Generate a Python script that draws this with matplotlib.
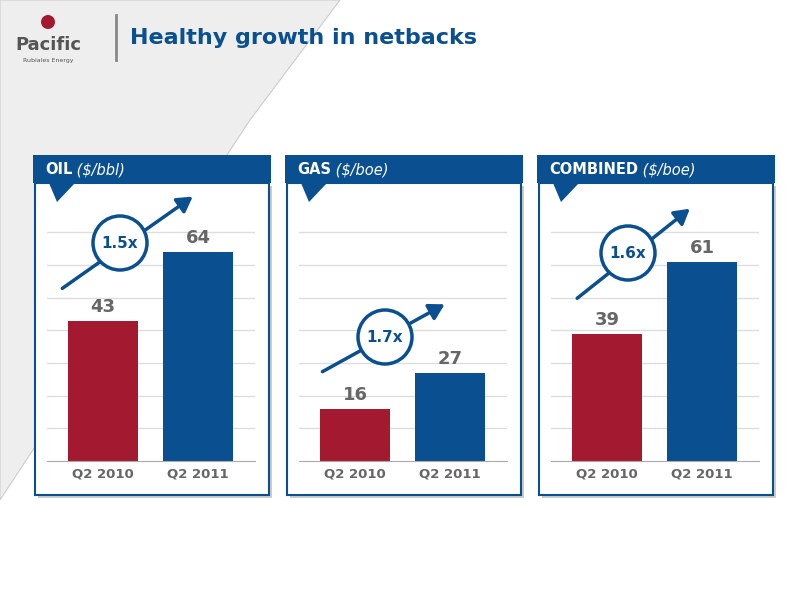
import matplotlib.pyplot as plt
from matplotlib.patches import Rectangle, Polygon, Circle, FancyArrowPatch

titles = ["OIL", "GAS", "COMBINED"]
units = ["($/bbl)", "($/boe)", "($/boe)"]
periods = ["Q2 2010", "Q2 2011"]
values = [[43, 64], [16, 27], [39, 61]]
ratios = ["1.5x", "1.7x", "1.6x"]

BLUE = "#0a4f8f"
RED = "#a3192f"
W, H = 800, 600

fig = plt.figure(figsize=(8, 6), dpi=100)
bg = fig.add_axes([0, 0, 1, 1])
bg.set_xlim(0, W)
bg.set_ylim(H, 0)
bg.axis("off")

# background swoosh
bg.add_patch(Polygon([(0, 0), (340, 0), (250, 120), (0, 500)], closed=True,
                     fc="#eeeeee", ec="#cccccc", lw=0.8))

# logo + title
bg.text(48, 50, "Pacific", fontsize=13, fontweight="bold", color="#555555", ha="center")
bg.text(48, 62, "Rubiales Energy", fontsize=4.5, color="#555555", ha="center")
bg.add_patch(Circle((48, 22), 7, fc=RED, ec="none"))
bg.plot([116, 116], [15, 60], color="#888888", lw=2)
bg.text(130, 38, "Healthy growth in netbacks", fontsize=16, fontweight="bold",
        color=BLUE, va="center")

panel_x = [35, 287, 539]
pw = 234
circles = [(120, 243), (385, 337), (628, 253)]
arrows = [((60, 290), (195, 195)), ((320, 373), (447, 303)), ((575, 300), (692, 207))]

for i in range(3):
    x0 = panel_x[i]
    # shadow + body
    bg.add_patch(Rectangle((x0 + 3, 186), pw, 312, fc="#cccccc", ec="none"))
    bg.add_patch(Rectangle((x0, 183), pw, 312, fc="white", ec=BLUE, lw=1.5))
    bg.add_patch(Rectangle((x0 - 2, 155), pw + 4, 28, fc=BLUE, ec="none"))
    bg.add_patch(Polygon([(x0 + 14, 183), (x0 + 40, 183), (x0 + 22, 202)], fc=BLUE, ec="none"))
    t = bg.text(x0 + 10, 170, titles[i], fontsize=10.5, fontweight="bold",
                color="white", va="center")
    bg.annotate(" " + units[i], xycoords=t, xy=(1, 0.5), va="center",
                fontsize=10.5, style="italic", color="white")

    left = (x0 + 12) / W
    ax = fig.add_axes([left, 139 / H, 208 / W, 245 / H])
    ax.set_xlim(-0.59, 1.6)
    ax.set_ylim(0, 75)
    ax.bar([0, 1], values[i], width=0.74, color=[RED, BLUE], zorder=2)
    for j, v in enumerate(values[i]):
        ax.text(j, v + 1.5, str(v), ha="center", va="bottom", fontsize=13,
                fontweight="bold", color="#666666")
    for g in range(10, 80, 10):
        ax.axhline(g, color="#dddddd", lw=1, zorder=1)
    ax.set_xticks([0, 1])
    ax.set_xticklabels(periods, fontsize=9.5, fontweight="bold", color="#666666")
    ax.tick_params(length=0, pad=5)
    ax.set_yticks([])
    for s in ["top", "left", "right"]:
        ax.spines[s].set_visible(False)
    ax.spines["bottom"].set_color("#aaaaaa")
    ax.patch.set_alpha(0)

# ratio bubbles on top
over = fig.add_axes([0, 0, 1, 1])
over.set_xlim(0, W)
over.set_ylim(H, 0)
over.axis("off")
for i in range(3):
    (a, b), (c, d) = arrows[i]
    over.add_patch(FancyArrowPatch((a, b), (c, d), arrowstyle="-|>,head_length=6,head_width=3.5",
                                   color=BLUE, lw=2.5, mutation_scale=1.5))
    cx, cy = circles[i]
    over.add_patch(Circle((cx, cy), 27, fc="white", ec=BLUE, lw=2.5))
    over.text(cx, cy, ratios[i], ha="center", va="center", fontsize=11,
              fontweight="bold", color=BLUE)

fig.savefig("out.png", dpi=100)
